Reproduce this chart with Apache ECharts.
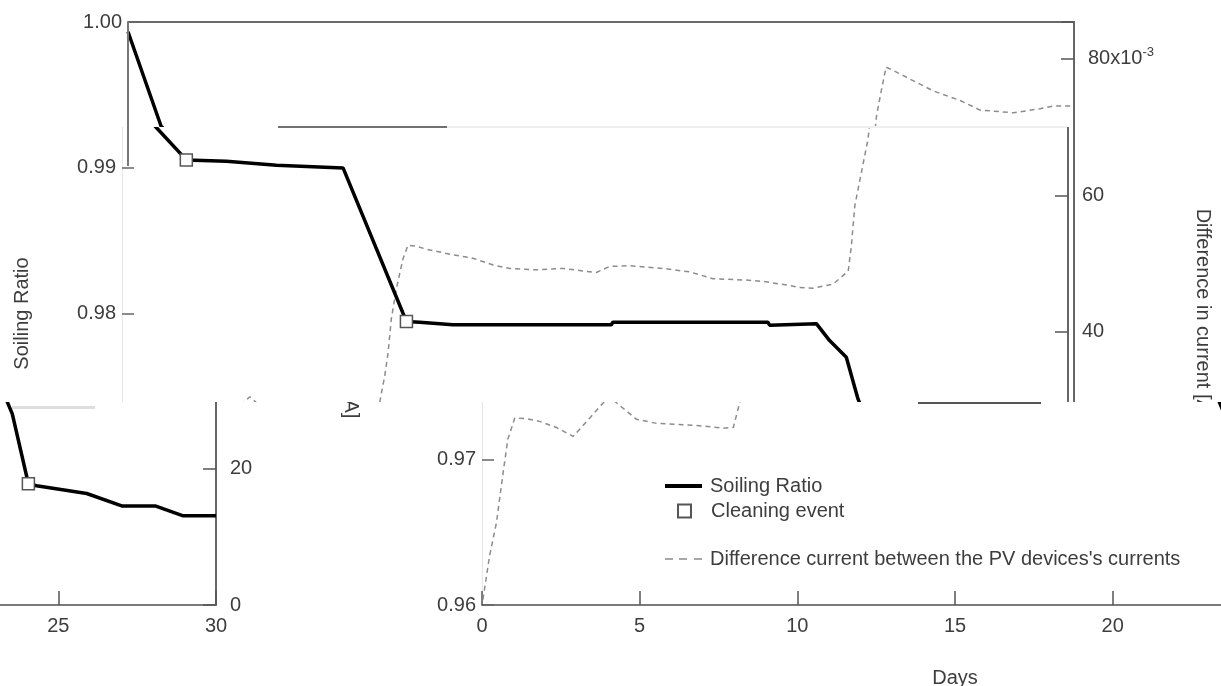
<!DOCTYPE html>
<html><head><meta charset="utf-8">
<script src="https://cdn.jsdelivr.net/npm/echarts@6/dist/echarts.min.js"></script>
<style>
html,body{margin:0;padding:0;background:#fff;}
#stage{position:relative;width:1221px;height:686px;overflow:hidden;background:#fff;}
.vp{position:absolute;overflow:hidden;}
.vp > div{position:absolute;width:1221px;height:686px;}
.art{position:absolute;}
</style></head><body>
<div id="stage">
  <div class="vp" style="left:0;top:0;width:1221px;height:127px"><div id="cA1" style="left:0;top:0"></div></div>
  <div class="vp" style="left:0;top:127px;width:1221px;height:275px"><div id="cA2" style="left:-6px;top:-127px"></div></div>
  <div class="vp" style="left:360px;top:402px;width:861px;height:284px"><div id="cB" style="left:-6px;top:-402px"></div></div>
  <div class="vp" style="left:0;top:402px;width:360px;height:284px"><div id="cC" style="left:-858px;top:-402px"></div></div>
  <div class="art" style="left:127px;top:22px;width:2px;height:144px;background:#777"></div>
  <div class="art" style="left:1073px;top:127px;width:2px;height:275px;background:#666"></div>
  <div class="art" style="left:278px;top:126px;width:169px;height:2px;background:#707070"></div>
  <div class="art" style="left:447px;top:126px;width:620px;height:2px;background:#efefef"></div>
  <div class="art" style="left:918px;top:402px;width:123px;height:2px;background:#555"></div>
  <div class="art" style="left:12px;top:406px;width:83px;height:3px;background:#dedede"></div>
</div>
<script>
// ---- data ----
const xTicks = [0, 5, 10, 15, 20, 25, 30];
const soilDays   = [0, 1.05, 2.04, 3.31, 4.90, 7.01, 9.02, 9.44, 10.49, 15.52, 15.56, 20.48, 20.54, 22.02, 22.44, 22.97, 23.34, 23.54, 24.05, 24.31, 25.90, 27.01, 28.07, 28.96, 30.0];
const soilValues = [0.99933, 0.99285, 0.99054, 0.99045, 0.99017, 0.98999, 0.97945, 0.9794, 0.97922, 0.97922, 0.9794, 0.9794, 0.9792, 0.9793, 0.97814, 0.97700, 0.97414, 0.97311, 0.96832, 0.96818, 0.96765, 0.9668, 0.9668, 0.96612, 0.96612];
const cleanDays   = [2.04, 9.02, 24.05];
const cleanValues = [0.99054, 0.97945, 0.96832];
const diffDays   = [0.03, 0.24, 0.46, 0.67, 0.82, 1.04, 1.41, 1.83, 2.36, 2.89, 3.42, 3.84, 4.05, 4.27, 4.9, 5.54, 6.81, 7.65, 7.97, 8.17, 8.33, 8.44, 8.54, 8.70, 8.91, 9.07, 9.28, 9.76, 10.50, 11.13, 11.77, 12.30, 13.14, 13.99, 15.04, 15.47, 16.10, 17.16, 18.00, 18.74, 19.80, 20.33, 21.17, 21.49, 21.91, 22.55, 23.03, 23.13, 23.24, 23.45, 23.66, 23.74, 23.90, 24.04, 24.48, 25.54, 26.39, 27.02, 28.08, 28.92, 29.35, 30.0];
const diffValues = [0.8, 7.2, 12.1, 19.4, 24.3, 27.4, 27.3, 26.9, 26.0, 24.7, 27.4, 29.6, 30.5, 29.6, 27.2, 26.6, 26.3, 25.9, 26.0, 29.6, 33.5, 37.0, 41.9, 46.3, 50.7, 52.7, 52.6, 52.0, 51.3, 50.8, 49.8, 49.3, 49.1, 49.3, 48.7, 49.6, 49.7, 49.3, 48.8, 47.8, 47.6, 47.4, 46.8, 46.5, 46.4, 47.0, 48.9, 52.6, 58.5, 63.4, 68.3, 71.7, 75.6, 78.8, 77.8, 75.3, 73.9, 72.5, 72.1, 72.7, 73.1, 73.1];
const leftTicks = [0.96, 0.97, 0.98, 0.99, 1.00];
const rightTicks = [0, 20, 40, 60, 80];
const names = ['Soiling Ratio', 'Cleaning event', "Difference current between the PV devices's currents"];

const zip = (a, b) => a.map((v, i) => [v, b[i]]);
const FONT = 'Liberation Sans';
const TXT = '#3d3d3d';
const txt = { fontFamily: FONT, fontSize: 20, color: TXT };

function legendFor(name, left, top, w, h, icon, padLeft) {
  return { data: [{ name: name, icon: icon }], orient: 'vertical', left: left, top: top, padding: 0,
    itemWidth: w, itemHeight: h, selectedMode: false, symbolKeepAspect: false,
    textStyle: Object.assign({ padding: [0, 0, 0, padLeft], lineHeight: 20 }, txt) };
}

function makeOption() {
  return {
    animation: false,
    backgroundColor: 'transparent',
    grid: { left: 128, top: 22, width: 946, height: 583, containLabel: false, outerBoundsMode: 'none' },
    legend: [
      legendFor(names[0], 311, 476, 37, 4, 'rect', 3),
      legendFor(names[1], 323, 501, 13, 13, 'rect', 15),
      legendFor(names[2], 311, 549, 37, 1.6, 'path://M0,0H8V2H0Z M14,0H22V2H14Z M29,0H37V2H29Z', 3)
    ],
    xAxis: [
      { type: 'value', min: xTicks[0], max: xTicks[xTicks.length - 1], interval: xTicks[1] - xTicks[0],
        position: 'bottom', name: 'Days', nameLocation: 'middle', nameGap: 63, nameTextStyle: txt,
        axisLine: { onZero: false, lineStyle: { color: '#7a7a7a', width: 2 } },
        axisTick: { inside: true, length: 14, lineStyle: { color: '#555', width: 1.5 } },
        axisLabel: Object.assign({ margin: 11 }, txt),
        splitLine: { show: false } },
      { type: 'value', min: xTicks[0], max: xTicks[xTicks.length - 1], position: 'top',
        axisLine: { show: true, onZero: false, lineStyle: { color: '#6a6a6a', width: 2 } },
        axisTick: { show: false }, axisLabel: { show: false }, splitLine: { show: false } }
    ],
    yAxis: [
      { type: 'value', min: leftTicks[0], max: leftTicks[leftTicks.length - 1], interval: 0.01, position: 'left',
        name: 'Soiling Ratio', nameLocation: 'middle', nameRotate: 90, nameGap: 90, nameTextStyle: txt,
        axisLine: { show: true, onZero: false, lineStyle: { color: '#e6e6e6', width: 1 } },
        axisTick: { show: true, inside: true, length: 12, lineStyle: { color: '#666', width: 1.5 } },
        axisLabel: Object.assign({ margin: 6, formatter: v => v.toFixed(2) }, txt),
        splitLine: { show: false } },
      { type: 'value', min: rightTicks[0], max: 85.4, interval: rightTicks[1] - rightTicks[0], position: 'right',
        name: 'Difference in current [A]', nameLocation: 'middle', nameRotate: -90, nameGap: 125, nameTextStyle: txt,
        axisLine: { show: true, onZero: false, lineStyle: { color: '#666', width: 2 } },
        axisTick: { show: true, inside: true, length: 13, lineStyle: { color: '#555', width: 1.5 } },
        axisLabel: Object.assign({ margin: 14,
          formatter: v => rightTicks.indexOf(Math.round(v * 10) / 10) < 0 ? '' : (v === 80 ? '{a|80x10}{s|-3}' : String(v)),
          rich: { a: txt, s: { fontFamily: FONT, fontSize: 13, color: TXT, verticalAlign: 'top', padding: [0, 0, 12, 0] } } }, txt),
        splitLine: { show: false } }
    ],
    series: [
      { name: names[2], type: 'line', xAxisIndex: 0, yAxisIndex: 1, data: zip(diffDays, diffValues),
        symbol: 'none', lineStyle: { color: '#8c8c8c', width: 1.5, type: [5, 4] }, itemStyle: { color: '#8c8c8c' }, z: 2 },
      { name: names[0], type: 'line', xAxisIndex: 0, yAxisIndex: 0, data: zip(soilDays, soilValues),
        symbol: 'none', lineStyle: { color: '#000', width: 3.5 }, itemStyle: { color: '#000' }, z: 3 },
      { name: names[1], type: 'scatter', xAxisIndex: 0, yAxisIndex: 0, data: zip(cleanDays, cleanValues),
        symbol: 'rect', symbolSize: 12, itemStyle: { color: '#fff', borderColor: '#555', borderWidth: 1.5, opacity: 1 }, z: 4 }
    ]
  };
}
['cA1', 'cA2', 'cB', 'cC'].forEach(id => {
  const ch = echarts.init(document.getElementById(id), null, { renderer: 'canvas', width: 1221, height: 686 });
  ch.setOption(makeOption());
});
</script>
</body></html>
